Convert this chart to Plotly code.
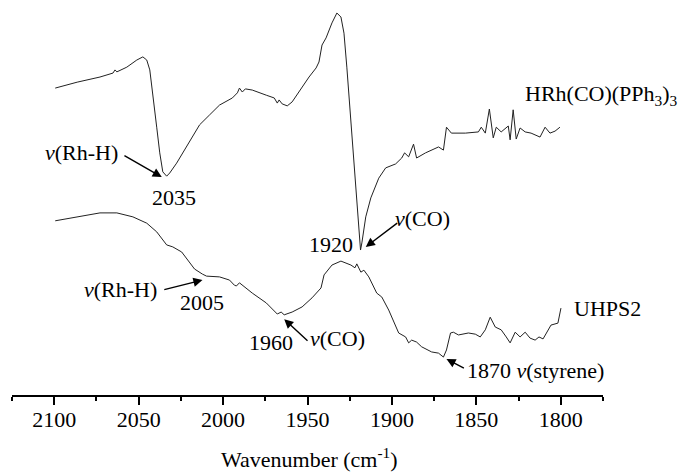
import plotly.graph_objects as go

# HRh(CO)(PPh3)3 spectrum (wavenumber, intensity a.u.)
hrh_wn = [2099.4, 2086.4, 2072.9, 2065.2, 2064.0, 2062.9, 2057.0, 2051.1, 2047.5, 2045.2,
          2043.4, 2041.6, 2039.3, 2037.5, 2035.7, 2033.4, 2031.6, 2027.5, 2021.6, 2015.7,
          2013.9, 2008.0, 2002.1, 1994.5, 1991.5, 1990.3, 1988.6, 1986.8, 1982.7, 1974.4,
          1969.7, 1967.9, 1966.8, 1965.0, 1962.0, 1959.1, 1953.2, 1949.1, 1944.9, 1943.2,
          1941.4, 1939.0, 1935.5, 1932.6, 1930.2, 1928.4, 1926.7, 1923.7, 1921.4, 1920.2,
          1918.6, 1917.8, 1915.5, 1912.5, 1907.8, 1903.7, 1897.8, 1894.2, 1892.5, 1890.1,
          1887.2, 1885.4, 1880.1, 1872.4, 1869.5, 1867.7, 1864.8, 1856.5, 1848.8, 1847.1,
          1844.7, 1842.3, 1840.0, 1838.2, 1835.3, 1831.1, 1830.0, 1828.2, 1826.4, 1824.1,
          1821.1, 1817.6, 1814.6, 1812.3, 1809.3, 1806.4, 1803.4, 1800.5]
hrh_int = [77.7, 79.2, 80.5, 81.5, 82.3, 81.8, 83.0, 84.8, 85.6, 84.8,
           82.3, 76.5, 67.8, 61.3, 56.5, 55.4, 56.2, 58.7, 62.8, 67.1,
           68.4, 70.9, 73.4, 75.2, 76.5, 77.7, 76.7, 77.5, 77.2, 75.9,
           75.2, 73.9, 74.7, 73.7, 73.2, 74.2, 78.0, 80.5, 82.8, 84.3,
           88.6, 90.4, 94.2, 96.7, 95.7, 91.6, 83.0, 66.3, 53.7, 45.1,
           36.7, 38.5, 45.1, 49.9, 54.9, 57.5, 58.5, 60.0, 61.3, 60.3,
           63.5, 60.0, 61.3, 62.8, 62.0, 67.8, 66.3, 66.3, 66.6, 67.8,
           66.3, 72.4, 65.1, 67.8, 66.6, 68.1, 64.6, 72.2, 64.8, 67.6,
           66.6, 66.3, 65.8, 65.3, 67.8, 66.3, 66.8, 67.8]

# UHPS2 spectrum
uhps_wn = [2099.4, 2086.4, 2072.9, 2062.9, 2053.4, 2045.2, 2039.3, 2033.4, 2029.8, 2024.5,
           2021.0, 2016.9, 2012.2, 2009.8, 2002.1, 1996.2, 1993.3, 1992.1, 1990.3, 1982.7,
           1974.4, 1967.9, 1965.6, 1963.8, 1959.1, 1953.2, 1947.3, 1942.0, 1940.2, 1935.5,
           1930.2, 1924.3, 1921.9, 1920.8, 1918.4, 1916.6, 1913.7, 1909.0, 1906.0, 1901.9,
           1896.0, 1891.9, 1890.1, 1888.3, 1885.4, 1882.4, 1876.5, 1872.4, 1869.5, 1867.7,
           1865.3, 1863.6, 1860.6, 1854.7, 1850.6, 1847.7, 1844.7, 1841.8, 1838.8, 1835.3,
           1832.3, 1830.0, 1827.0, 1824.1, 1821.1, 1818.2, 1815.2, 1812.9, 1810.5, 1807.6,
           1805.8, 1801.7, 1799.9]
uhps_int = [44.1, 45.1, 46.1, 46.1, 45.1, 43.5, 41.3, 38.0, 37.5, 36.2,
            34.2, 31.9, 30.6, 30.1, 29.9, 29.1, 27.8, 27.6, 28.4, 25.8,
            23.3, 20.5, 21.0, 20.3, 21.0, 22.3, 24.6, 27.1, 30.4, 32.9,
            33.9, 32.9, 32.2, 33.2, 31.1, 31.6, 29.9, 25.8, 24.8, 21.5,
            15.7, 14.7, 13.2, 13.9, 13.4, 12.2, 10.9, 10.6, 9.6, 11.4,
            15.7, 15.9, 15.2, 15.7, 15.4, 14.7, 16.5, 19.7, 17.2, 16.5,
            14.7, 13.2, 15.9, 14.7, 15.9, 14.4, 13.9, 14.7, 14.2, 16.5,
            17.7, 18.2, 22.0]

x_ticks = [2100, 2050, 2000, 1950, 1900, 1850, 1800]

FONT = "Liberation Serif"
FS = 22
LINE = "#222222"

fig = go.Figure()
fig.add_trace(go.Scatter(x=hrh_wn, y=hrh_int, mode="lines",
                         line=dict(color=LINE, width=1), showlegend=False))
fig.add_trace(go.Scatter(x=uhps_wn, y=uhps_int, mode="lines",
                         line=dict(color=LINE, width=1), showlegend=False))

# text labels (data coordinates)
labels = [
    ("<i>v</i>(Rh-H)", 2083.8, 61.5, "center"),
    ("2035", 2029.2, 50.1, "center"),
    ("1920", 1936.1, 38.0, "center"),
    ("<i>v</i>(CO)", 1881.8, 44.8, "center"),
    ("<i>v</i>(Rh-H)", 2060.5, 26.6, "center"),
    ("2005", 2012.2, 23.3, "center"),
    ("1960", 1971.5, 13.4, "center"),
    ("<i>v</i>(CO)", 1932.0, 14.4, "center"),
    ("1870 <i>v</i>(styrene)", 1856.5, 6.1, "left"),
]
for txt, xv, yv, xa in labels:
    fig.add_annotation(x=xv, y=yv, xref="x", yref="y", text=txt, showarrow=False,
                       xanchor=xa, yanchor="middle",
                       font=dict(family=FONT, size=FS, color="black"))

# arrows: (head x, head y, tail x, tail y)
arrows = [
    (2036.3, 55.2, 2059.3, 60.8),
    (1915.5, 37.5, 1896.0, 43.8),
    (2012.2, 29.1, 2035.7, 26.6),
    (1963.8, 19.2, 1949.1, 13.4),
    (1867.7, 9.1, 1856.5, 6.6),
]
for hx, hy, tx, ty in arrows:
    fig.add_annotation(x=hx, y=hy, ax=tx, ay=ty, xref="x", yref="y",
                       axref="x", ayref="y", text="", showarrow=True,
                       arrowhead=2, arrowsize=1.3, arrowwidth=1.4, arrowcolor="black",
                       standoff=0, startstandoff=0)

# series labels beyond plot area
fig.add_annotation(x=0.8646, y=75.9, xref="paper", yref="y",
                   text="HRh(CO)(PPh<sub>3</sub>)<sub>3</sub>", showarrow=False,
                   xanchor="left", yanchor="middle",
                   font=dict(family=FONT, size=FS, color="black"))
fig.add_annotation(x=0.9475, y=22.0, xref="paper", yref="y",
                   text="UHPS2", showarrow=False, xanchor="left", yanchor="middle",
                   font=dict(family=FONT, size=FS, color="black"))

# axis title
fig.add_annotation(x=0.504, y=-0.16, xref="paper", yref="paper",
                   text="Wavenumber (cm<sup>-1</sup>)", showarrow=False,
                   xanchor="center", yanchor="middle",
                   font=dict(family=FONT, size=FS, color="black"))

fig.update_xaxes(range=[2125, 1775], tickmode="array", tickvals=x_ticks,
                 ticktext=[str(v) for v in x_ticks],
                 ticks="outside", ticklen=8, tickwidth=1.5, tickcolor="black",
                 ticklabelstandoff=-4,
                 showline=True, linecolor="black", linewidth=1.6,
                 showgrid=False, zeroline=False,
                 minor=dict(dtick=25, tick0=2125, ticks="outside", ticklen=4,
                            tickwidth=1.5, tickcolor="black", showgrid=False),
                 tickfont=dict(family=FONT, size=FS, color="black"))
fig.update_yaxes(range=[0, 100], visible=False, showgrid=False, zeroline=False)

fig.update_layout(width=678, height=474,
                  margin=dict(l=12, r=75, t=0, b=79),
                  paper_bgcolor="white", plot_bgcolor="white",
                  font=dict(family=FONT, size=FS, color="black"))

fig.write_html("out.html")
